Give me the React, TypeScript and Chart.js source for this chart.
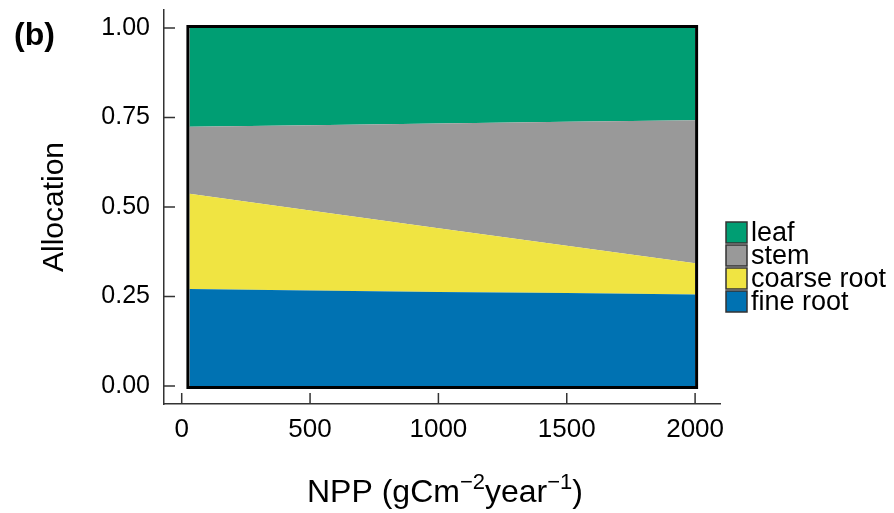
import React, { useEffect, useRef } from "react";
import { Chart, registerables } from "chart.js";

Chart.register(...registerables);

// ---- data ----
const npp = [30, 500, 1000, 1500, 2000];
const fineRoot = [0.271, 0.267, 0.263, 0.26, 0.256];
const coarseRoot = [0.266, 0.223, 0.178, 0.132, 0.087];
const stem = [0.187, 0.238, 0.292, 0.346, 0.399];
const leaf = [0.276, 0.272, 0.267, 0.262, 0.258];

const xTicks = [0, 500, 1000, 1500, 2000];
const yTicks = [0, 0.25, 0.5, 0.75, 1];
const yTickLabels = ["0.00", "0.25", "0.50", "0.75", "1.00"];

const legendNames = ["leaf", "stem", "coarse root", "fine root"];
const legendColors = ["#009E73", "#999999", "#F0E442", "#0072B2"];

const FONT = "'Liberation Sans', Arial, Helvetica, sans-serif";

const decorPlugin = {
  id: "decor",
  afterDatasetsDraw(chart: any) {
    const { ctx, scales } = chart;
    const x = scales.x;
    const y = scales.y;
    const totals = npp.map((_, i) => fineRoot[i] + coarseRoot[i] + stem[i] + leaf[i]);
    ctx.save();
    ctx.strokeStyle = "#000";
    ctx.lineWidth = 3;
    ctx.lineJoin = "miter";
    ctx.beginPath();
    const x0 = x.getPixelForValue(npp[0]) - 1.5;
    const x1 = x.getPixelForValue(npp[npp.length - 1]) + 1.5;
    const yb = y.getPixelForValue(0) + 1.5;
    ctx.moveTo(x0, yb);
    npp.forEach((v, i) => {
      let px = x.getPixelForValue(v);
      if (i === 0) px = x0;
      if (i === npp.length - 1) px = x1;
      ctx.lineTo(px, y.getPixelForValue(totals[i]) - 1.5);
    });
    ctx.lineTo(x1, yb);
    ctx.closePath();
    ctx.stroke();
    ctx.restore();
  },
  afterDraw(chart: any) {
    const { ctx, chartArea, scales } = chart;
    const x = scales.x;
    const y = scales.y;
    ctx.save();
    // inward ticks
    ctx.strokeStyle = "#333";
    ctx.lineWidth = 1.5;
    ctx.beginPath();
    yTicks.forEach((v) => {
      const py = y.getPixelForValue(v);
      ctx.moveTo(chartArea.left, py);
      ctx.lineTo(chartArea.left + 11, py);
    });
    xTicks.forEach((v) => {
      const px = x.getPixelForValue(v);
      ctx.moveTo(px, chartArea.bottom);
      ctx.lineTo(px, chartArea.bottom - 11);
    });
    ctx.stroke();

    // panel tag
    ctx.fillStyle = "#000";
    ctx.font = `bold 32px ${FONT}`;
    ctx.textAlign = "left";
    ctx.textBaseline = "alphabetic";
    ctx.fillText("(b)", 14, 45);

    // y title
    ctx.save();
    ctx.font = `30px ${FONT}`;
    ctx.translate(63, (chartArea.top + chartArea.bottom) / 2);
    ctx.rotate(-Math.PI / 2);
    ctx.textAlign = "center";
    ctx.fillText("Allocation", 0, 0);
    ctx.restore();

    // x title with superscripts
    const parts: [string, boolean][] = [
      ["NPP (gCm", false],
      ["\u22122", true],
      ["year", false],
      ["\u22121", true],
      [")", false],
    ];
    const mainFont = `32px ${FONT}`;
    const supFont = `22px ${FONT}`;
    let total = 0;
    parts.forEach(([t, sup]) => {
      ctx.font = sup ? supFont : mainFont;
      total += ctx.measureText(t).width;
    });
    let cx = (chartArea.left + chartArea.right) / 2 - total / 2 + 3;
    const base = 502;
    ctx.textAlign = "left";
    parts.forEach(([t, sup]) => {
      ctx.font = sup ? supFont : mainFont;
      ctx.fillText(t, cx, sup ? base - 13 : base);
      cx += ctx.measureText(t).width;
    });

    // legend
    legendNames.forEach((name, i) => {
      const top = 222 + i * 23;
      ctx.fillStyle = legendColors[i];
      ctx.fillRect(726, top, 21, 21);
      ctx.strokeStyle = "#333";
      ctx.lineWidth = 1.5;
      ctx.strokeRect(726, top, 21, 21);
      ctx.fillStyle = "#000";
      ctx.font = `27px ${FONT}`;
      ctx.fillText(name, 751, top + 19);
    });
    ctx.restore();
  },
};

export default function App() {
  const ref = useRef<HTMLCanvasElement | null>(null);
  useEffect(() => {
    if (!ref.current) return;
    const mk = (vals: number[]) => npp.map((v, i) => ({ x: v, y: vals[i] }));
    const chart = new Chart(ref.current, {
      type: "line",
      data: {
        datasets: [
          { label: "fine root", data: mk(fineRoot), backgroundColor: "#0072B2", fill: "origin" },
          { label: "coarse root", data: mk(coarseRoot), backgroundColor: "#F0E442", fill: "-1" },
          { label: "stem", data: mk(stem), backgroundColor: "#999999", fill: "-1" },
          { label: "leaf", data: mk(leaf), backgroundColor: "#009E73", fill: "-1" },
        ],
      },
      options: {
        responsive: false,
        animation: false,
        layout: { padding: { left: 0, right: 174, top: 10, bottom: 0 } },
        elements: {
          point: { radius: 0, hoverRadius: 0 },
          line: { borderWidth: 0, tension: 0 },
        },
        plugins: { legend: { display: false }, tooltip: { enabled: false } },
        scales: {
          x: {
            type: "linear",
            min: -69,
            max: 2097,
            afterBuildTicks: (s: any) => {
              s.ticks = xTicks.map((v) => ({ value: v }));
            },
            afterFit: (s: any) => {
              s.height = 109;
              s.paddingLeft = 0;
              s.paddingRight = 0;
            },
            grid: { display: false, drawTicks: false },
            border: { display: true, color: "#333", width: 1.5 },
            ticks: {
              padding: 10,
              color: "#000",
              font: { family: FONT, size: 26 },
              maxRotation: 0,
              autoSkip: false,
              callback: (v: any) => String(v),
            },
          },
          y: {
            type: "linear",
            stacked: true,
            min: -0.05,
            max: 1.05,
            afterBuildTicks: (s: any) => {
              s.ticks = yTicks.map((v) => ({ value: v }));
            },
            afterFit: (s: any) => {
              s.width = 164;
              s.paddingTop = 0;
              s.paddingBottom = 0;
            },
            grid: { display: false, drawTicks: false },
            border: { display: true, color: "#333", width: 1.5 },
            ticks: {
              padding: 14,
              color: "#000",
              font: { family: FONT, size: 25 },
              autoSkip: false,
              callback: (v: any) => {
                const idx = yTicks.indexOf(Number(v));
                return idx >= 0 ? yTickLabels[idx] : "";
              },
            },
          },
        },
      },
      plugins: [decorPlugin],
    } as any);
    return () => chart.destroy();
  }, []);
  return (
    <div style={{ position: "fixed", left: 0, top: 0, width: 894, height: 513, background: "#fff" }}>
      <canvas ref={ref} width={894} height={513} style={{ display: "block" }} />
    </div>
  );
}
